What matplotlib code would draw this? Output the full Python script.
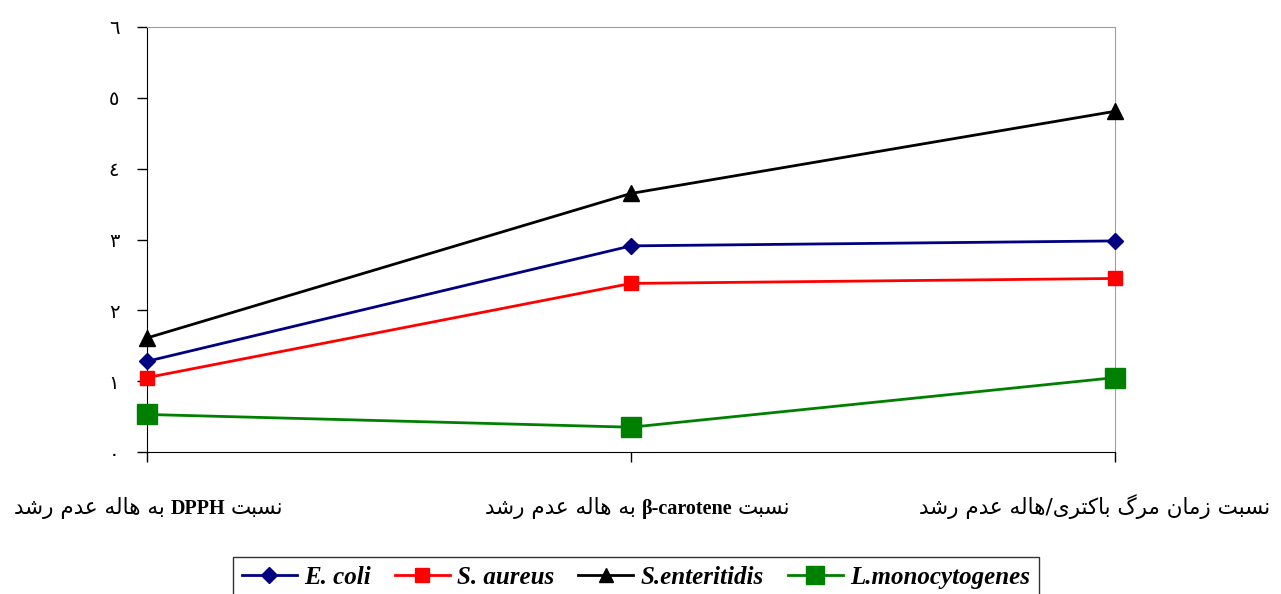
import matplotlib
matplotlib.use("Agg")
import matplotlib.pyplot as plt
from matplotlib.lines import Line2D

# ------------------------------------------------------------------
# DATI
# ------------------------------------------------------------------
categorie = [0, 1, 2]
e_coli = [1.28, 2.91, 2.98]
s_aureus = [1.05, 2.38, 2.45]
s_enteritidis = [1.61, 3.65, 4.81]
l_monocytogenes = [0.53, 0.35, 1.05]

y_ticks = [0, 1, 2, 3, 4, 5, 6]
y_labels = ["٠", "١", "٢", "٣", "٤", "٥", "٦"]

# etichette asse x: pezzi in ordine logico (persiano, grassetto latino)
etichette = [
    [("نسبت", False), ("DPPH", True), ("به هاله عدم رشد", False)],
    [("نسبت", False), ("β-carotene", True), ("به هاله عدم رشد", False)],
    [("نسبت زمان مرگ باکتری/هاله عدم رشد", False)],
]

serie = ["E. coli", "S. aureus", "S.enteritidis", "L.monocytogenes"]

# ------------------------------------------------------------------
# forme di presentazione arabe (iso, fin, ini, med)
# ------------------------------------------------------------------
FORME = {
    "ا": ("\uFE8D", "\uFE8E", None, None),
    "ب": ("\uFE8F", "\uFE90", "\uFE91", "\uFE92"),
    "ت": ("\uFE95", "\uFE96", "\uFE97", "\uFE98"),
    "د": ("\uFEA9", "\uFEAA", None, None),
    "ر": ("\uFEAD", "\uFEAE", None, None),
    "ز": ("\uFEAF", "\uFEB0", None, None),
    "س": ("\uFEB1", "\uFEB2", "\uFEB3", "\uFEB4"),
    "ش": ("\uFEB5", "\uFEB6", "\uFEB7", "\uFEB8"),
    "ع": ("\uFEC9", "\uFECA", "\uFECB", "\uFECC"),
    "ل": ("\uFEDD", "\uFEDE", "\uFEDF", "\uFEE0"),
    "م": ("\uFEE1", "\uFEE2", "\uFEE3", "\uFEE4"),
    "ن": ("\uFEE5", "\uFEE6", "\uFEE7", "\uFEE8"),
    "ه": ("\uFEE9", "\uFEEA", "\uFEEB", "\uFEEC"),
    "ک": ("\uFB8E", "\uFB8F", "\uFB90", "\uFB91"),
    "گ": ("\uFB92", "\uFB93", "\uFB94", "\uFB95"),
    "ی": ("\uFBFC", "\uFBFD", "\uFBFE", "\uFBFF"),
}


def unisce_dopo(ch):
    f = FORME.get(ch)
    return f is not None and f[2] is not None


def forma(testo):
    out = []
    for i, ch in enumerate(testo):
        f = FORME.get(ch)
        if f is None:
            out.append(ch)
            continue
        prima = i > 0 and unisce_dopo(testo[i - 1])
        dopo = i + 1 < len(testo) and testo[i + 1] in FORME and f[2] is not None
        if prima and dopo:
            out.append(f[3])
        elif prima:
            out.append(f[1])
        elif dopo:
            out.append(f[2])
        else:
            out.append(f[0])
    return "".join(out)[::-1]


plt.rcParams["font.family"] = ["Liberation Serif", "DejaVu Sans"]

fig = plt.figure(figsize=(12.81, 5.94), dpi=100)
ax = fig.add_axes([147 / 1281, 1 - 452 / 594, (1115 - 147) / 1281, (452 - 27) / 594])

ax.plot(categorie, e_coli, color="#000080", lw=2, marker="D", ms=8, clip_on=False, zorder=3)
ax.plot(categorie, s_aureus, color="#ff0000", lw=2, marker="s", ms=10, clip_on=False, zorder=3)
ax.plot(categorie, s_enteritidis, color="#000000", lw=2, marker="^", ms=11, clip_on=False, zorder=3)
ax.plot(categorie, l_monocytogenes, color="#008000", lw=2, marker="s", ms=15, clip_on=False, zorder=3)

ax.set_xlim(0, 2)
ax.set_ylim(0, 6)
ax.set_xticks(categorie)
ax.set_xticklabels([])
ax.set_yticks(y_ticks)
ax.set_yticklabels(y_labels, family=["DejaVu Sans"], fontsize=14)
ax.tick_params(axis="both", direction="out", length=7, width=1, colors="black")
ax.tick_params(axis="y", pad=13)
for lato in ["top", "right"]:
    ax.spines[lato].set_color("#a0a0a0")
for lato in ["left", "bottom"]:
    ax.spines[lato].set_color("black")
ax.patch.set_facecolor("white")

# etichette x (da destra a sinistra)
bordo_destro = [0.281, 1.329, 2.320]
for pezzi, xr in zip(etichette, bordo_destro):
    prec = None
    for testo, grassetto in pezzi:
        if grassetto:
            s = testo
            kw = dict(fontweight="bold", family=["Liberation Serif"], fontsize=14.5)
        else:
            s = forma(testo)
            kw = dict(family=["DejaVu Sans"], fontsize=15.5)
        if prec is None:
            prec = ax.annotate(s, xy=(xr, -0.145), xycoords=("data", "axes fraction"),
                               ha="right", va="baseline", annotation_clip=False, **kw)
        else:
            prec = ax.annotate(s, xy=(0, -0.145), xycoords=(prec, "axes fraction"),
                               xytext=(-4, 0), textcoords="offset points",
                               ha="right", va="baseline", annotation_clip=False, **kw)

maniglie = [
    Line2D([], [], color="#000080", lw=2, marker="D", ms=8),
    Line2D([], [], color="#ff0000", lw=2, marker="s", ms=10),
    Line2D([], [], color="#000000", lw=2, marker="^", ms=10),
    Line2D([], [], color="#008000", lw=2, marker="s", ms=13),
]
leg = fig.legend(maniglie, serie, loc="upper left", bbox_to_anchor=(233 / 1281, 1 - 557 / 594),
                 ncol=4, frameon=True, fancybox=False, edgecolor="black", borderaxespad=0,
                 prop=dict(family="Liberation Serif", style="italic", weight="bold", size=18),
                 handlelength=2.2, handletextpad=0.3, columnspacing=0.95, borderpad=0.35)
leg.get_frame().set_linewidth(1)

fig.savefig("out.png", dpi=100)
